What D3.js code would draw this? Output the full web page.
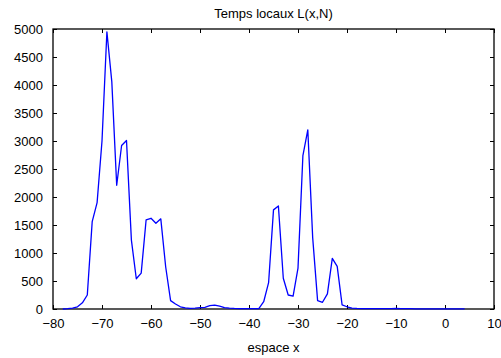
<!DOCTYPE html>
<html>
<head>
<meta charset="utf-8">
<script src="https://cdn.jsdelivr.net/npm/d3@7"></script>
<style>
body { margin: 0; background: white; }
svg { display: block; font-family: "Liberation Sans", Arial, sans-serif; }
</style>
</head>
<body>
<script>
// positions x (espace) et temps locaux L(x,N)
let xs = [-78, -77, -76, -75, -74, -73, -72, -71, -70, -69, -68, -67, -66, -65, -64, -63, -62, -61, -60, -59,
          -58, -57, -56, -55, -54, -53, -52, -51, -50, -49, -48, -47, -46, -45, -44, -43, -42, -41, -40, -39,
          -38, -37, -36, -35, -34, -33, -32, -31, -30, -29, -28, -27, -26, -25, -24, -23, -22, -21, -20, -19,
          -18, -17, -16, -15, -14, -13, -12, -11, -10, -9, -8, -7, -6, -5, -4, -3, -2, -1, 0, 1, 2, 3, 4]
let ls = [0, 5, 15, 40, 110, 250, 1560, 1900, 3000, 4950, 4060, 2210, 2920, 3010, 1230, 540, 640, 1590, 1620, 1530,
          1610, 750, 150, 90, 40, 20, 10, 15, 25, 30, 60, 70, 50, 25, 15, 10, 8, 6, 5, 5,
          5, 130, 470, 1770, 1840, 550, 250, 230, 730, 2740, 3200, 1270, 150, 120, 270, 905, 760, 75, 40, 15,
          10, 8, 6, 5, 5, 5, 6, 8, 10, 8, 6, 5, 4, 4, 4, 3, 3, 3, 3, 3, 3, 3, 3]
let xTicks = [-80, -70, -60, -50, -40, -30, -20, -10, 0, 10]
let yTicks = [0, 500, 1000, 1500, 2000, 2500, 3000, 3500, 4000, 4500, 5000]

function main(){
    let svg = d3.select('body')
        .append('svg')
        .attr('width', 501)
        .attr('height', 358)

    const margin = {top: 29, right: 7, bottom: 49, left: 53}
    let width = 501 - margin.left - margin.right
    let height = 358 - margin.top - margin.bottom

    let xScale = d3.scaleLinear().domain([-80, 10]).range([margin.left, margin.left + width])
    let yScale = d3.scaleLinear().domain([0, 5000]).range([margin.top + height, margin.top])

    let tick = 4

    let xAxis = svg.append('g')
        .attr('transform', `translate(0,${margin.top + height})`)
        .call(d3.axisBottom(xScale).tickValues(xTicks).tickSizeInner(-tick).tickSizeOuter(0).tickPadding(9.5))
    let xAxisTop = svg.append('g')
        .attr('transform', `translate(0,${margin.top})`)
        .call(d3.axisTop(xScale).tickValues(xTicks).tickSizeInner(-tick).tickSizeOuter(0).tickFormat(''))
    let yAxis = svg.append('g')
        .attr('transform', `translate(${margin.left},0)`)
        .call(d3.axisLeft(yScale).tickValues(yTicks).tickSizeInner(-tick).tickSizeOuter(0).tickPadding(10).tickFormat(d3.format('d')))
    let yAxisRight = svg.append('g')
        .attr('transform', `translate(${margin.left + width},0)`)
        .call(d3.axisRight(yScale).tickValues(yTicks).tickSizeInner(-tick).tickSizeOuter(0).tickFormat(''))

    svg.selectAll('.domain').remove()
    svg.selectAll('.tick line').attr('stroke', '#000').attr('stroke-width', 1)
    svg.selectAll('.tick text').attr('font-size', '13px').attr('fill', '#000')
        .attr('font-family', '"Liberation Sans", Arial, sans-serif')

    svg.append('rect')
        .attr('x', margin.left)
        .attr('y', margin.top)
        .attr('width', width)
        .attr('height', height)
        .attr('fill', 'none')
        .attr('stroke', '#000')
        .attr('stroke-width', 1.3)

    let line = d3.line()
        .x((d, i) => xScale(xs[i]))
        .y(d => yScale(d))

    svg.append('path')
        .datum(ls)
        .attr('d', line)
        .attr('fill', 'none')
        .attr('stroke', '#0000ff')
        .attr('stroke-width', 1.3)
        .attr('stroke-linejoin', 'round')

    svg.append('text')
        .attr('x', margin.left + width / 2)
        .attr('y', 18)
        .attr('text-anchor', 'middle')
        .attr('font-size', '13px')
        .text('Temps locaux L(x,N)')
    svg.append('text')
        .attr('x', margin.left + width / 2)
        .attr('y', 352)
        .attr('text-anchor', 'middle')
        .attr('font-size', '13px')
        .text('espace x')
}

main()
</script>
</body>
</html>
